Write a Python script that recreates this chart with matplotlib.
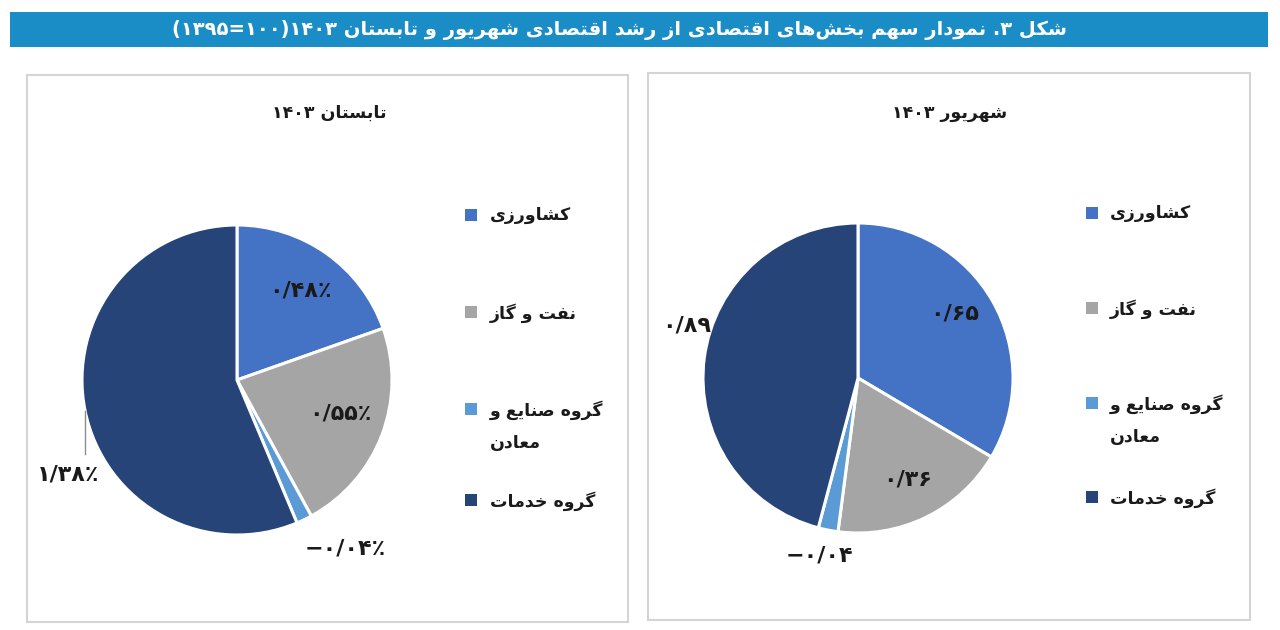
import matplotlib
matplotlib.use('Agg')
import matplotlib.pyplot as plt
from matplotlib.patches import Rectangle
import numpy as np

# ---------------- data ----------------
categories = ['کشاورزی', 'نفت و گاز', 'گروه صنایع و\nمعادن', 'گروه خدمات']
tabestan_values = [0.48, 0.55, -0.04, 1.38]
shahrivar_values = [0.65, 0.36, -0.04, 0.89]
tabestan_labels = ['۰/۴۸٪', '۰/۵۵٪', '−۰/۰۴٪', '۱/۳۸٪']
shahrivar_labels = ['۰/۶۵', '۰/۳۶', '−۰/۰۴', '۰/۸۹']
title_text = 'شکل ۳. نمودار سهم بخش‌های اقتصادی از رشد اقتصادی شهریور و تابستان ۱۴۰۳(۱۰۰=۱۳۹۵)'
left_title = 'تابستان ۱۴۰۳'
right_title = 'شهریور ۱۴۰۳'

colors = ['#4472C4', '#A5A5A5', '#5B9BD5', '#264478']

# ---------------- minimal Persian shaping ----------------
FORMS = {
    'ا': ('\uFE8D', '\uFE8E', None, None),
    'ب': ('\uFE8F', '\uFE90', '\uFE91', '\uFE92'),
    'پ': ('\uFB56', '\uFB57', '\uFB58', '\uFB59'),
    'ت': ('\uFE95', '\uFE96', '\uFE97', '\uFE98'),
    'ث': ('\uFE99', '\uFE9A', '\uFE9B', '\uFE9C'),
    'ج': ('\uFE9D', '\uFE9E', '\uFE9F', '\uFEA0'),
    'چ': ('\uFB7A', '\uFB7B', '\uFB7C', '\uFB7D'),
    'ح': ('\uFEA1', '\uFEA2', '\uFEA3', '\uFEA4'),
    'خ': ('\uFEA5', '\uFEA6', '\uFEA7', '\uFEA8'),
    'د': ('\uFEA9', '\uFEAA', None, None),
    'ذ': ('\uFEAB', '\uFEAC', None, None),
    'ر': ('\uFEAD', '\uFEAE', None, None),
    'ز': ('\uFEAF', '\uFEB0', None, None),
    'ژ': ('\uFB8A', '\uFB8B', None, None),
    'س': ('\uFEB1', '\uFEB2', '\uFEB3', '\uFEB4'),
    'ش': ('\uFEB5', '\uFEB6', '\uFEB7', '\uFEB8'),
    'ص': ('\uFEB9', '\uFEBA', '\uFEBB', '\uFEBC'),
    'ض': ('\uFEBD', '\uFEBE', '\uFEBF', '\uFEC0'),
    'ط': ('\uFEC1', '\uFEC2', '\uFEC3', '\uFEC4'),
    'ظ': ('\uFEC5', '\uFEC6', '\uFEC7', '\uFEC8'),
    'ع': ('\uFEC9', '\uFECA', '\uFECB', '\uFECC'),
    'غ': ('\uFECD', '\uFECE', '\uFECF', '\uFED0'),
    'ف': ('\uFED1', '\uFED2', '\uFED3', '\uFED4'),
    'ق': ('\uFED5', '\uFED6', '\uFED7', '\uFED8'),
    'ک': ('\uFB8E', '\uFB8F', '\uFB90', '\uFB91'),
    'گ': ('\uFB92', '\uFB93', '\uFB94', '\uFB95'),
    'ل': ('\uFEDD', '\uFEDE', '\uFEDF', '\uFEE0'),
    'م': ('\uFEE1', '\uFEE2', '\uFEE3', '\uFEE4'),
    'ن': ('\uFEE5', '\uFEE6', '\uFEE7', '\uFEE8'),
    'و': ('\uFEED', '\uFEEE', None, None),
    'ه': ('\uFEE9', '\uFEEA', '\uFEEB', '\uFEEC'),
    'ی': ('\uFBFC', '\uFBFD', '\uFBFE', '\uFBFF'),
}
DIGITS = set('۰۱۲۳۴۵۶۷۸۹0123456789/٫')
MIRROR = {'(': ')', ')': '('}


def shape(s):
    out = []
    n = len(s)
    for i, c in enumerate(s):
        if c not in FORMS:
            out.append(c)
            continue
        f = FORMS[c]
        prev = s[i - 1] if i > 0 else ''
        nxt = s[i + 1] if i < n - 1 else ''
        pj = prev in FORMS and FORMS[prev][2] is not None
        nj = nxt in FORMS and f[2] is not None
        if pj and nj:
            out.append(f[3])
        elif pj:
            out.append(f[1])
        elif nj:
            out.append(f[2])
        else:
            out.append(f[0])
    return ''.join(out).replace('\u200c', '')


def fa(s):
    lines = []
    for line in s.split('\n'):
        sh = shape(line)
        runs = []
        cur, isnum = '', None
        for c in sh:
            d = c in DIGITS
            if isnum is None or d == isnum:
                cur += c
            else:
                runs.append((cur, isnum))
                cur = c
            isnum = d
        if cur:
            runs.append((cur, isnum))
        vis = ''
        for txt, num in reversed(runs):
            if num:
                vis += txt
            else:
                vis += ''.join(MIRROR.get(ch, ch) for ch in reversed(txt))
        lines.append(vis)
    return '\n'.join(lines)


plt.rcParams['font.family'] = ['DejaVu Sans']

W, H = 1280, 630
fig = plt.figure(figsize=(W / 100, H / 100), dpi=100)
fig.patch.set_facecolor('white')

# overlay in pixel coordinates
ov = fig.add_axes([0, 0, 1, 1])
ov.set_xlim(0, W)
ov.set_ylim(H, 0)
ov.axis('off')

# title bar
ov.add_patch(Rectangle((10, 12), 1258, 35, facecolor='#1a8cc6', edgecolor='none'))
ov.text(620, 30, fa(title_text), color='white', fontsize=14, fontweight='bold',
        ha='center', va='center')

# panels
ov.add_patch(Rectangle((27, 75), 601, 547, facecolor='white', edgecolor='#d4d4d4', lw=1.5))
ov.add_patch(Rectangle((648, 73), 602, 547, facecolor='white', edgecolor='#d4d4d4', lw=1.5))

ov.text(329, 113, fa(left_title), fontsize=12.5, fontweight='bold', ha='center', va='center', color='#1a1a1a')
ov.text(950, 113, fa(right_title), fontsize=12.5, fontweight='bold', ha='center', va='center', color='#1a1a1a')

# legends
legend_specs = [
    (465, 490, [215, 312, 409, 500]),
    (1086, 1110, [213, 308, 403, 497]),
]
for sqx, tx, ys in legend_specs:
    for cat, col, y in zip(categories, colors, ys):
        ov.add_patch(Rectangle((sqx, y - 6), 12, 12, facecolor=col, edgecolor='none'))
        ov.text(tx, y - 9, fa(cat), fontsize=12.5, fontweight='bold', ha='left', va='top',
                color='#1a1a1a', linespacing=2.0)

R_PX = 155
HALF = 210


def pie_axes(cx, cy):
    ax = fig.add_axes([(cx - HALF) / W, (H - cy - HALF) / H, 2 * HALF / W, 2 * HALF / H])
    ax.set_xlim(-HALF / R_PX, HALF / R_PX)
    ax.set_ylim(-HALF / R_PX, HALF / R_PX)
    ax.axis('off')
    return ax


def draw_pie(ax, values, labels, radii, shifts, leader=None):
    wedges, _ = ax.pie(np.abs(values), colors=colors, startangle=90, counterclock=False,
                       radius=1.0, wedgeprops=dict(edgecolor='white', linewidth=2.2),
                       frame=True)
    ax.set_xlim(-HALF / R_PX, HALF / R_PX)
    ax.set_ylim(-HALF / R_PX, HALF / R_PX)
    ax.set_aspect('equal')
    ax.axis('off')
    for i, (w, lab, r, sh) in enumerate(zip(wedges, labels, radii, shifts)):
        mid = np.deg2rad((w.theta1 + w.theta2) / 2 + sh)
        ax.text(r * np.cos(mid), r * np.sin(mid), lab, fontsize=16, fontweight='bold',
                ha='center', va='center', color='#1a1a1a')
        if leader is not None and i == leader[0]:
            m0 = np.deg2rad((w.theta1 + w.theta2) / 2)
            x0, y0 = np.cos(m0), np.sin(m0)
            ax.plot([x0, x0], [y0, leader[1]], color='#8c8c8c', lw=1)


axL = pie_axes(237, 380)
draw_pie(axL, tabestan_values, tabestan_labels,
         radii=[0.71, 0.70, 1.29, 1.25], shifts=[0, 3, 7, 17.8], leader=(3, -0.48))

axR = pie_axes(858, 378)
draw_pie(axR, shahrivar_values, shahrivar_labels,
         radii=[0.75, 0.73, 1.17, 1.16], shifts=[4, 0, -1, -9.7])

fig.savefig('out.png', dpi=100, facecolor='white')
